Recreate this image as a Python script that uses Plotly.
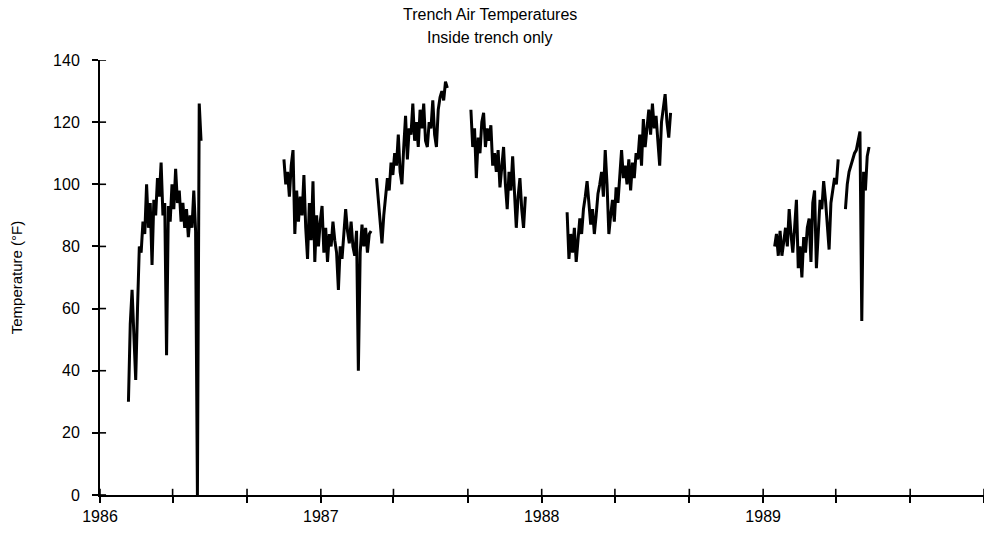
import pandas as pd
import plotly.graph_objects as go

# Sampling: one reading every 3 days within each logging period
seg_starts = ["1986-02-17", "1986-11-01", "1987-04-03", "1987-09-06",
              "1988-02-12", "1989-01-20", "1989-05-17"]

seg1 = [30, 55, 66, 50, 37, 60, 80, 78, 88, 84, 100, 86, 94, 74, 95, 90, 102, 96,
        107, 90, 94, 45, 93, 88, 100, 92, 105, 94, 98, 88, 94, 86, 92, 83, 90, 86,
        98, 85, 0, 126, 114]
seg2 = [108, 100, 104, 96, 106, 111, 84, 98, 88, 96, 90, 103, 86, 76, 94, 82, 101,
        75, 90, 80, 88, 93, 78, 86, 75, 84, 80, 88, 82, 78, 66, 80, 76, 84, 92, 85,
        81, 88, 80, 77, 85, 40, 78, 87, 80, 86, 78, 84, 85]
seg3 = [102, 95, 86, 81, 90, 96, 102, 98, 107, 103, 110, 106, 116, 104, 100, 112,
        122, 108, 118, 116, 126, 114, 120, 112, 124, 118, 126, 114, 112, 120, 118,
        127, 116, 112, 124, 128, 130, 127, 133, 131]
seg4 = [124, 112, 118, 102, 115, 110, 120, 123, 112, 118, 114, 119, 106, 110, 104,
        111, 99, 106, 112, 100, 92, 104, 98, 109, 95, 86, 96, 102, 92, 86, 96]
seg5 = [91, 76, 84, 78, 86, 75, 82, 89, 84, 92, 96, 101, 94, 87, 92, 84, 90, 97, 100,
        104, 96, 111, 100, 84, 90, 95, 88, 99, 94, 104, 111, 102, 106, 100, 108, 98,
        107, 102, 110, 108, 116, 106, 121, 112, 118, 124, 116, 126, 118, 122, 114,
        106, 120, 125, 129, 120, 115, 123]
seg6 = [80, 84, 77, 85, 77, 82, 86, 80, 92, 84, 78, 86, 95, 73, 80, 70, 83, 78, 86,
        89, 75, 94, 98, 73, 85, 95, 92, 101, 95, 88, 79, 94, 98, 102, 100, 108]
seg7 = [92, 100, 104, 106, 108, 110, 111, 114, 117, 56, 104, 98, 109, 112]

segments = [seg1, seg2, seg3, seg4, seg5, seg6, seg7]

# axis tick grid
x_tick_dates = pd.date_range("1986-01-01", "1990-01-01", freq="4MS")
y_tick_vals = [0, 20, 40, 60, 80, 100, 120, 140]

xs, ys = [], []
for start, vals in zip(seg_starts, segments):
    dates = pd.date_range(start, periods=len(vals), freq="3D")
    xs += [d.strftime("%Y-%m-%d") for d in dates]
    ys += vals
    xs.append(None)
    ys.append(None)

FONT = "Liberation Sans Narrow, Arial Narrow, Liberation Sans, Arial, sans-serif"
X_RANGE = ["1986-01-01", "1990-01-01"]
Y_RANGE = [0, 140]

# inner halves of the crossing tick marks (outer halves are the axis ticks)
INNER_Y = 2.0                      # tick length inside, in °F (~6 px)
INNER_X = pd.Timedelta(days=10)    # tick length inside, in days (~6 px)
tx, ty = [], []
for d in x_tick_dates:
    tx += [d.strftime("%Y-%m-%d"), d.strftime("%Y-%m-%d"), None]
    ty += [0, INNER_Y, None]
x0 = pd.Timestamp(X_RANGE[0])
for v in y_tick_vals:
    tx += [x0.strftime("%Y-%m-%d"), (x0 + INNER_X).strftime("%Y-%m-%d"), None]
    ty += [v, v, None]

fig = go.Figure()
fig.add_trace(go.Scatter(x=xs, y=ys, mode="lines",
                         line=dict(color="black", width=3),
                         connectgaps=False, showlegend=False, hoverinfo="skip"))
fig.add_trace(go.Scatter(x=tx, y=ty, mode="lines",
                         line=dict(color="black", width=1.6),
                         connectgaps=False, showlegend=False, hoverinfo="skip"))

fig.update_layout(
    width=984, height=543,
    paper_bgcolor="white", plot_bgcolor="white",
    margin=dict(l=100, r=0, t=60, b=48),
    font=dict(family=FONT, color="black", size=16),
    xaxis=dict(type="date", range=X_RANGE, tickmode="linear",
               tick0="1986-01-01", dtick="M12", tickformat="%Y",
               ticks="outside", ticklen=6, tickwidth=1.6, tickcolor="black",
               minor=dict(dtick="M4", tick0="1986-01-01", ticks="outside",
                          ticklen=6, tickwidth=1.6, tickcolor="black", showgrid=False),
               showline=True, linecolor="black", linewidth=2,
               showgrid=False, zeroline=False, tickfont=dict(size=16)),
    yaxis=dict(range=Y_RANGE, tickmode="linear", tick0=0, dtick=20,
               ticks="outside", ticklen=6, tickwidth=1.6, tickcolor="black",
               ticklabelstandoff=9,
               showline=True, linecolor="black", linewidth=2,
               showgrid=False, zeroline=False, tickfont=dict(size=16),
               title=dict(text="Temperature (°F)", font=dict(size=15), standoff=27)),
    annotations=[
        dict(text="Trench Air Temperatures", xref="paper", yref="paper",
             x=0.441, y=1.105, xanchor="center", yanchor="middle",
             showarrow=False, font=dict(size=16, family=FONT)),
        dict(text="Inside trench only", xref="paper", yref="paper",
             x=0.441, y=1.052, xanchor="center", yanchor="middle",
             showarrow=False, font=dict(size=16, family=FONT)),
    ],
)

fig.write_html("out.html")
